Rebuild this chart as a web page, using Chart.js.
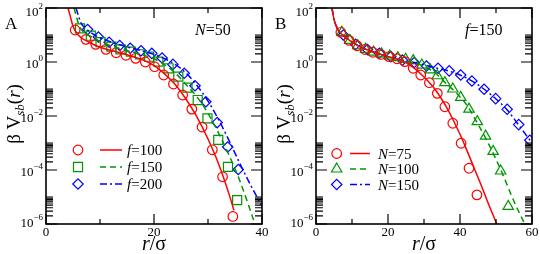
<!DOCTYPE html>
<html><head><meta charset="utf-8">
<script src="https://cdn.jsdelivr.net/npm/chart.js@4/dist/chart.umd.min.js"></script>
<style>
html,body{margin:0;padding:0;background:#fff;}
#wrap{position:relative;width:540px;height:254px;overflow:hidden;}
canvas{position:absolute;top:0;}
#cA{left:0;} #cB{left:270px;}
</style></head><body>
<div id="wrap"><canvas id="cA" width="270" height="254"></canvas><canvas id="cB" width="270" height="254"></canvas></div>
<script>
// ---------- Panel A (N=50) ----------
const rA_f100 = [5.4, 7.4, 9.2, 11.1, 13.0, 14.8, 16.6, 18.4, 20.1, 21.8, 23.6, 25.3, 27.0, 28.9, 30.8, 32.7, 34.6];
const vA_f100 = [15.3, 6.9, 4.5, 2.95, 2.2, 1.77, 1.37, 1.0, 0.67, 0.33, 0.153, 0.060, 0.018, 0.0039, 5.6e-4, 5.6e-5, 1.9e-6];
const rA_f100_fit = [4.07, 4.5, 5, 6, 8, 10, 12, 15, 18, 20, 22, 24, 26, 28, 30, 32, 34, 34.8];
const vA_f100_fit = [100, 49, 20.9, 9.8, 5.4, 3.5, 2.7, 1.86, 1.17, 0.74, 0.355, 0.141, 0.040, 0.0089, 0.0014, 1.6e-4, 1.1e-5, 3.2e-6];

const rA_f150 = [6.3, 8.3, 10.1, 12.1, 13.8, 15.7, 17.4, 19.1, 20.8, 22.7, 24.5, 26.2, 28.1, 29.9, 31.9, 33.7, 35.4];
const vA_f150 = [17.7, 9.4, 5.4, 3.7, 2.95, 2.4, 1.93, 1.57, 1.03, 0.585, 0.286, 0.112, 0.039, 0.0082, 0.0013, 1.3e-4, 7.7e-6];
const rA_f150_fit = [5.2, 5.6, 6.2, 7, 8, 10, 12, 15, 18, 20, 22, 24, 26, 28, 30, 32, 34, 36, 38.7];
const vA_f150_fit = [100, 50, 20.9, 12.6, 9.5, 5.75, 4.0, 2.63, 1.82, 1.32, 0.79, 0.38, 0.141, 0.050, 0.0126, 0.00224, 3.2e-4, 3.5e-5, 1e-6];

const rA_f200 = [7.7, 9.7, 11.7, 13.65, 15.6, 17.6, 19.6, 21.5, 23.5, 25.6, 27.6, 29.6, 31.7, 33.65, 35.6];
const vA_f200 = [16.0, 8.4, 5.4, 4.1, 3.24, 2.62, 2.08, 1.41, 0.815, 0.381, 0.132, 0.0336, 0.0057, 7.1e-4, 1.04e-4];
const rA_f200_fit = [5.55, 6.5, 7.5, 9, 12, 15, 18, 20, 22, 24, 26, 28, 30, 32, 34, 36, 38, 40, 41.5];
const vA_f200_fit = [100, 27.5, 16.6, 10, 5.5, 3.63, 2.51, 1.91, 1.32, 0.794, 0.38, 0.132, 0.0355, 0.0071, 0.00112, 1.58e-4, 2.5e-5, 4.5e-6, 1e-6];

// ---------- Panel B (f=150) ----------
const rB_N75 = [6.9, 9.2, 11.4, 13.6, 15.8, 18.0, 20.3, 22.5, 24.7, 27.0, 29.1, 31.5, 33.7, 35.8, 38.0, 40.3, 42.5, 44.7];
const vB_N75 = [12.6, 6.3, 4.0, 2.9, 2.3, 1.9, 1.58, 1.32, 1.03, 0.585, 0.33, 0.171, 0.069, 0.022, 0.0054, 9.8e-4, 1.16e-4, 1.2e-5];
const rB_N75_fit = [4.44, 5, 6, 7, 8, 10, 13, 16, 20, 24, 27, 30, 33, 36, 38, 40, 42, 44, 46, 48, 50.2];
const vB_N75_fit = [100, 38, 16.6, 11.2, 8.7, 5.5, 3.3, 2.34, 1.58, 1.1, 0.63, 0.28, 0.1, 0.024, 0.0076, 0.0021, 5e-4, 1.12e-4, 2.5e-5, 5.2e-6, 1e-6];

const rB_N100 = [7.2, 9.4, 11.6, 13.8, 16.0, 18.2, 20.5, 22.7, 24.9, 27.0, 29.4, 31.7, 33.7, 35.8, 38.0, 40.2, 42.5, 44.8, 47.1, 49.2, 51.3, 53.4];
const vB_N100 = [12.6, 6.3, 4.0, 2.95, 2.34, 2.0, 1.66, 1.45, 1.26, 1.12, 0.77, 0.51, 0.31, 0.171, 0.1, 0.049, 0.018, 0.0062, 0.0018, 4.9e-4, 9.2e-5, 4.5e-6];
const rB_N100_fit = [4.44, 5, 6, 7, 8, 10, 13, 16, 20, 24, 27, 30, 33, 36, 39, 42, 45, 48, 50, 52, 54, 56, 58];
const vB_N100_fit = [100, 38, 16.6, 11.2, 8.7, 5.5, 3.3, 2.34, 1.58, 1.17, 0.955, 0.69, 0.40, 0.166, 0.071, 0.024, 0.005, 8.9e-4, 2.5e-4, 6.3e-5, 1.4e-5, 3.5e-6, 1e-6];

const rB_N150 = [7.6, 11.0, 14.3, 17.6, 20.8, 24.0, 27.3, 30.7, 33.9, 37.0, 40.2, 43.3, 46.7, 49.9, 53.1, 56.3, 59.4];
const vB_N150 = [10, 4.5, 2.9, 2.1, 1.58, 1.17, 0.955, 0.71, 0.585, 0.47, 0.33, 0.198, 0.0975, 0.044, 0.0177, 0.0048, 0.00126];
const rB_N150_fit = [4.44, 5, 6, 7, 8, 10, 13, 16, 20, 24, 28, 31, 34, 37, 40, 43, 46, 50, 53, 56, 60];
const vB_N150_fit = [100, 38, 16.6, 11.2, 8.7, 5.5, 3.3, 2.34, 1.58, 1.17, 0.91, 0.72, 0.575, 0.457, 0.331, 0.209, 0.115, 0.0427, 0.0174, 0.00525, 0.001];

// axis tick values
const xTicksA = [0, 20, 40];
const xTicksB = [0, 20, 40, 60];
const yLabelPowers = [-6, -4, -2, 0, 2];

const RED = '#ff0000', GREEN = 'rgb(0,150,0)', BLUE = '#0000ff';
const FONT = "'Liberation Serif','Times New Roman',serif";
const F = (s, it) => (it ? 'italic ' : '') + s + 'px ' + FONT;
const pts = (xs, ys) => xs.map((x, i) => ({x: x, y: ys[i]}));

const STY = {
  circle: {pointStyle: 'circle', r: 4.8},
  rect: {pointStyle: 'rect', r: 6.4},
  rectRot: {pointStyle: 'rectRot', r: 5.2},
  triangle: {pointStyle: 'triangle', r: 6}
};
const DASH = {solid: [], dash: [6, 4], dashdot: [7, 3, 2, 3]};

function markerSet(xs, ys, color, sty) {
  return {data: pts(xs, ys), showLine: false, pointStyle: STY[sty].pointStyle, pointRadius: STY[sty].r,
    pointBorderColor: color, pointBackgroundColor: 'rgba(0,0,0,0)', pointBorderWidth: 1.2, pointHoverRadius: STY[sty].r};
}
function lineSet(xs, ys, color, dash) {
  return {data: pts(xs, ys), showLine: true, borderColor: color, borderWidth: 1.5, borderDash: DASH[dash],
    pointRadius: 0, pointHoverRadius: 0, fill: false, cubicInterpolationMode: 'monotone'};
}

function rich(ctx, x, y, segs, align) {
  let w = 0;
  segs.forEach(s => { ctx.font = s.f; s.w = ctx.measureText(s.t).width; w += s.w; });
  let cx = align === 'center' ? x - w / 2 : (align === 'right' ? x - w : x);
  ctx.textAlign = 'left';
  segs.forEach(s => { ctx.font = s.f; ctx.fillText(s.t, cx, y + (s.dy || 0)); cx += s.w; });
  return w;
}

function marker(ctx, sty, x, y, color) {
  const r = STY[sty].r;
  ctx.save(); ctx.strokeStyle = color; ctx.lineWidth = 1.2; ctx.setLineDash([]);
  ctx.beginPath();
  if (sty === 'circle') ctx.arc(x, y, r, 0, Math.PI * 2);
  else if (sty === 'rect') { const s = r * Math.SQRT1_2; ctx.rect(x - s, y - s, 2 * s, 2 * s); }
  else if (sty === 'rectRot') { ctx.moveTo(x - r, y); ctx.lineTo(x, y - r); ctx.lineTo(x + r, y); ctx.lineTo(x, y + r); ctx.closePath(); }
  else if (sty === 'triangle') { ctx.moveTo(x, y - r); ctx.lineTo(x + 0.866 * r, y + 0.5 * r); ctx.lineTo(x - 0.866 * r, y + 0.5 * r); ctx.closePath(); }
  ctx.stroke(); ctx.restore();
}

const decor = {
  id: 'decor',
  afterDraw(chart, args, o) {
    const ctx = chart.ctx, a = chart.chartArea, xs = chart.scales.x, ys = chart.scales.y;
    ctx.save();
    ctx.fillStyle = '#000'; ctx.strokeStyle = '#000';
    // frame
    ctx.lineWidth = 1.6; ctx.setLineDash([]);
    ctx.strokeRect(a.left, a.top, a.right - a.left, a.bottom - a.top);
    // x ticks (inside, bottom & top)
    ctx.lineWidth = 1.2;
    for (let v = 0; v <= o.xmax; v += 10) {
      const px = xs.getPixelForValue(v), L = (v % 20 === 0) ? 10 : 5;
      ctx.beginPath();
      ctx.moveTo(px, a.bottom); ctx.lineTo(px, a.bottom - L);
      ctx.moveTo(px, a.top); ctx.lineTo(px, a.top + L);
      ctx.stroke();
    }
    // y ticks (inside, left & right)
    for (let n = -6; n <= 2; n += 2) {
      const py = ys.getPixelForValue(Math.pow(10, n));
      ctx.beginPath();
      ctx.moveTo(a.left, py); ctx.lineTo(a.left + 11, py);
      ctx.moveTo(a.right, py); ctx.lineTo(a.right - 11, py);
      ctx.stroke();
      if (n < 2) {
        for (let k = 2; k <= 10; k++) {
          const pm = ys.getPixelForValue(k * Math.pow(10, n));
          ctx.beginPath();
          ctx.moveTo(a.left, pm); ctx.lineTo(a.left + 7, pm);
          ctx.moveTo(a.right, pm); ctx.lineTo(a.right - 7, pm);
          ctx.stroke();
        }
      }
    }
    // y labels 10^n
    ctx.textBaseline = 'alphabetic';
    yLabelPowers.forEach(n => {
      let py = ys.getPixelForValue(Math.pow(10, n));
      if (n === 2) py += 2;
      if (n === -6) py -= 3;
      const sup = n < 0 ? '\u2212' + (-n) : String(n);
      ctx.font = F(9); const sw = ctx.measureText(sup).width;
      const xr = a.left - 3;
      ctx.font = F(13); ctx.textAlign = 'right';
      ctx.fillText('10', xr - sw, py + 5.5);
      ctx.font = F(9); ctx.textAlign = 'left';
      ctx.fillText(sup, xr - sw, py - 1.5);
    });
    // x title
    rich(ctx, (a.left + a.right) / 2, 250, [{t: 'r', f: F(20, true)}, {t: '/\u03c3', f: F(20)}], 'center');
    // y title (rotated)
    ctx.save();
    ctx.translate(20, (a.top + a.bottom) / 2 - 2);
    ctx.rotate(-Math.PI / 2);
    rich(ctx, 0, 0, [{t: '\u03b2 V', f: F(19)}, {t: 'sb', f: F(13, true), dy: 4}, {t: '(', f: F(19)},
      {t: 'r', f: F(19, true)}, {t: ')', f: F(19)}], 'center');
    ctx.restore();
    // panel letter
    ctx.font = F(17); ctx.textAlign = 'left';
    ctx.fillText(o.letter, 5, 29);
    // note
    rich(ctx, 195, 35, o.note, 'left');
    // legend
    o.legend.forEach((it, i) => {
      const y = o.leg.y0 + i * o.leg.dy;
      marker(ctx, it.sty, o.leg.mx, y, it.color);
      ctx.save(); ctx.strokeStyle = it.color; ctx.lineWidth = 1.5; ctx.setLineDash(DASH[it.dash]);
      ctx.beginPath(); ctx.moveTo(o.leg.l0, y); ctx.lineTo(o.leg.l1, y); ctx.stroke(); ctx.restore();
      ctx.fillStyle = '#000';
      rich(ctx, o.leg.tx, y + 5, it.label, 'left');
    });
    ctx.restore();
  }
};

function makeChart(id, xmax, xticks, datasets, deco) {
  deco.xmax = xmax;
  return new Chart(document.getElementById(id), {
    type: 'scatter',
    data: {datasets: datasets},
    options: {
      responsive: false, animation: false, devicePixelRatio: 1,
      layout: {padding: {top: 8, right: 8, left: 0, bottom: 0}},
      plugins: {legend: {display: false}, tooltip: {enabled: false}, decor: deco},
      scales: {
        x: {type: 'linear', min: 0, max: xmax,
          afterBuildTicks: s => { s.ticks = xticks.map(v => ({value: v})); },
          ticks: {font: {family: FONT, size: 13}, color: '#000', padding: 1, maxRotation: 0, autoSkip: false},
          grid: {display: false, drawTicks: false}, border: {display: false},
          afterFit: s => { s.height = 30; }},
        y: {type: 'logarithmic', min: 1e-6, max: 1e2,
          ticks: {display: false}, grid: {display: false, drawTicks: false}, border: {display: false},
          afterFit: s => { s.width = 46; }}
      }
    },
    plugins: [decor]
  });
}

makeChart('cA', 40, xTicksA, [
  lineSet(rA_f100_fit, vA_f100_fit, RED, 'solid'),
  lineSet(rA_f150_fit, vA_f150_fit, GREEN, 'dash'),
  lineSet(rA_f200_fit, vA_f200_fit, BLUE, 'dashdot'),
  markerSet(rA_f100, vA_f100, RED, 'circle'),
  markerSet(rA_f150, vA_f150, GREEN, 'rect'),
  markerSet(rA_f200, vA_f200, BLUE, 'rectRot')
], {
  letter: 'A',
  note: [{t: 'N', f: F(16, true)}, {t: '=50', f: F(16)}],
  leg: {y0: 150, dy: 17, mx: 78, l0: 100, l1: 122, tx: 127},
  legend: [
    {sty: 'circle', color: RED, dash: 'solid', label: [{t: 'f', f: F(15, true)}, {t: '=100', f: F(15)}]},
    {sty: 'rect', color: GREEN, dash: 'dash', label: [{t: 'f', f: F(15, true)}, {t: '=150', f: F(15)}]},
    {sty: 'rectRot', color: BLUE, dash: 'dashdot', label: [{t: 'f', f: F(15, true)}, {t: '=200', f: F(15)}]}
  ]
});

makeChart('cB', 60, xTicksB, [
  lineSet(rB_N75_fit, vB_N75_fit, RED, 'solid'),
  lineSet(rB_N100_fit, vB_N100_fit, GREEN, 'dash'),
  lineSet(rB_N150_fit, vB_N150_fit, BLUE, 'dashdot'),
  markerSet(rB_N75, vB_N75, RED, 'circle'),
  markerSet(rB_N100, vB_N100, GREEN, 'triangle'),
  markerSet(rB_N150, vB_N150, BLUE, 'rectRot')
], {
  letter: 'B',
  note: [{t: 'f', f: F(16, true)}, {t: '=150', f: F(16)}],
  leg: {y0: 153.5, dy: 15.5, mx: 66.7, l0: 80, l1: 100, tx: 108},
  legend: [
    {sty: 'circle', color: RED, dash: 'solid', label: [{t: 'N', f: F(15, true)}, {t: '=75', f: F(15)}]},
    {sty: 'triangle', color: GREEN, dash: 'dash', label: [{t: 'N', f: F(15, true)}, {t: '=100', f: F(15)}]},
    {sty: 'rectRot', color: BLUE, dash: 'dashdot', label: [{t: 'N', f: F(15, true)}, {t: '=150', f: F(15)}]}
  ]
});
</script>
</body></html>
